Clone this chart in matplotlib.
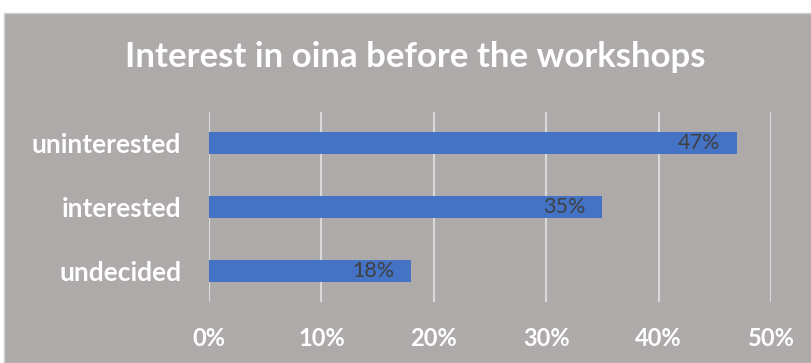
import matplotlib.pyplot as plt
from matplotlib.patches import Rectangle

categories = ['undecided', 'interested', 'uninterested']
values = [18, 35, 47]
ticks = [0, 10, 20, 30, 40, 50]
tick_labels = ['0%', '10%', '20%', '30%', '40%', '50%']

plt.rcParams['font.family'] = ['Lato', 'DejaVu Sans']

bg = '#AEAAAA'
fig = plt.figure(figsize=(8.11, 3.63), dpi=100, facecolor='white')
fig.patches.append(Rectangle((4 / 811, 0), 1, 1 - 13 / 363, transform=fig.transFigure,
                             facecolor=bg, edgecolor='#D0D0D0', linewidth=1, zorder=-10))

ax = fig.add_axes([209 / 811, 61 / 363, 562 / 811, 190 / 363])
ax.set_facecolor('none')
bars = ax.barh(range(len(categories)), values, height=0.35, color='#4472C4', zorder=3)
ax.set_xlim(0, 50)
ax.set_ylim(-0.48, 2.48)
ax.set_xticks(ticks)
ax.set_xticklabels(tick_labels)
ax.set_yticks(range(len(categories)))
ax.set_yticklabels(categories)
ax.tick_params(axis='both', length=0, colors='white')
ax.tick_params(axis='x', pad=18, labelsize=17)
ax.tick_params(axis='y', pad=20, labelsize=19)
for lbl in ax.get_xticklabels() + ax.get_yticklabels():
    lbl.set_fontweight('bold')
ax.grid(axis='x', color='#D9D9D9', linewidth=1.5, zorder=0)
for s in ax.spines.values():
    s.set_visible(False)

for b, v in zip(bars, values):
    ax.text(v - 1.5, b.get_y() + b.get_height() / 2, f'{v}%', ha='right', va='center',
            color='#404040', fontsize=15.5, zorder=4)

fig.text(415 / 811, 1 - 57 / 363, 'Interest in oina before the workshops', ha='center', va='center',
         color='white', fontsize=25, fontweight='bold')

fig.savefig('out.png', dpi=100, facecolor=fig.get_facecolor())
